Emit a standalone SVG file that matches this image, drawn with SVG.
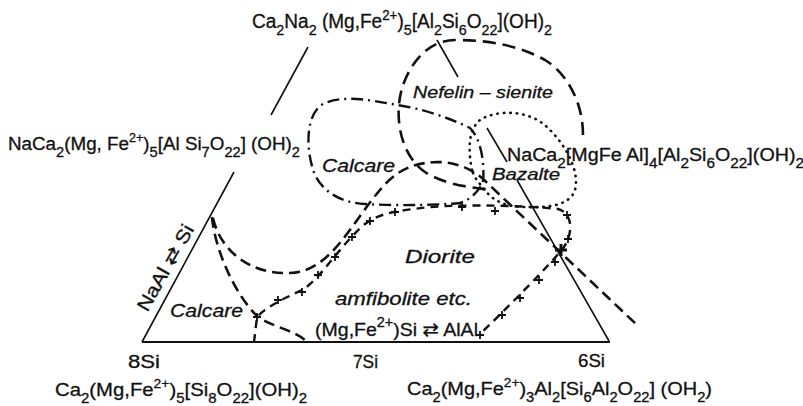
<svg xmlns="http://www.w3.org/2000/svg" xmlns:xlink="http://www.w3.org/1999/xlink" width="803" height="406" viewBox="0 0 803 406">
<style>
text{font-family:"Liberation Sans","DejaVu Sans",sans-serif;fill:#111;stroke:#111;stroke-width:0.3}
.it{font-style:italic}
.sol{fill:none;stroke:#111;stroke-width:1.6}
.base{fill:none;stroke:#111;stroke-width:2.2}
.dash{fill:none;stroke:#111;stroke-width:2.6;stroke-dasharray:11 6}
.dashL{fill:none;stroke:#111;stroke-width:2.6;stroke-dasharray:13 7}
.dd{fill:none;stroke:#111;stroke-width:2.4;stroke-dasharray:12 5 2 5}
.dx{fill:none;stroke:#111;stroke-width:2.4;stroke-dasharray:8 6}
.dot{fill:none;stroke:#111;stroke-width:2.6;stroke-linecap:round;stroke-dasharray:0.5 6}
.cr{stroke:#111;stroke-width:1.8;fill:none}
</style>
<defs>
<path id="cross" class="cr" d="M-4,0H4M0,-4V4"/>
<path id="crossB" d="M-6,0H6M0,-6V6" stroke="#111" stroke-width="3" fill="none"/>
</defs>
<rect width="803" height="406" fill="#fff"/>

<g id="triangle">
<path class="sol" d="M308,47 L271,115 M234,172 L142,342"/>
<path class="sol" d="M437,40 L458,77 M487,128 L507,162 M517,180 L609,341"/>
<path class="base" d="M142,342 H610"/>
</g>

<g id="connectors">
<path id="curveA" class="dash" d="M212,217 C215,250 235,295 258,317 C275,328 295,330 307,342"/>
<path id="curveB" class="dash" d="M213,218 C220,250 250,275 290,273 C330,272 350,225 380,190 C395,172 410,163 437,162 C455,162 470,168 482,178 L637,325"/>
<path id="curveC" class="dashL" d="M583,135 C583,100 565,72 545,60 C520,46 490,40 455,40 C430,40 412,60 403,85 C393,115 400,155 425,172 C445,185 470,187 490,190"/>
<path id="curveD" class="dd" d="M483,182 C485,160 480,138 470,128 C450,118 420,108 397,105 C370,100 345,95 325,103 C305,112 305,150 315,175 C325,195 345,203 365,204 C400,206 440,205 460,203 C470,200 478,192 483,182 Z"/>
<path id="curveE" class="dx" d="M254,342 L257,317 C268,305 290,296 302,290 C320,280 340,245 365,224 C380,213 395,211 430,207 C470,204 530,206 558,209 C575,214 573,238 560,252 C540,275 500,315 480,334"/>
<path id="curveF" class="dot" d="M472,170 C468,150 468,130 480,120 C495,110 530,108 550,130 C565,145 580,170 575,190 C570,205 550,208 525,207 C505,207 492,200 485,190 C478,182 474,177 472,170 Z"/>
<g id="crosses">
<use xlink:href="#cross" x="257" y="317"/>
<use xlink:href="#cross" x="278" y="300"/>
<use xlink:href="#cross" x="302" y="292"/>
<use xlink:href="#cross" x="318" y="275"/>
<use xlink:href="#cross" x="335" y="257"/>
<use xlink:href="#cross" x="352" y="237"/>
<use xlink:href="#cross" x="370" y="221"/>
<use xlink:href="#cross" x="395" y="212"/>
<use xlink:href="#cross" x="462" y="207"/>
<use xlink:href="#cross" x="495" y="211"/>
<use xlink:href="#cross" x="567" y="215"/>
<use xlink:href="#cross" x="568" y="239"/>
<use xlink:href="#crossB" x="561" y="250"/>
<use xlink:href="#cross" x="555" y="262"/>
<use xlink:href="#cross" x="539" y="280"/>
<use xlink:href="#cross" x="520" y="298"/>
<use xlink:href="#cross" x="502" y="315"/>
<use xlink:href="#cross" x="480" y="335"/>
</g>
</g>

<g id="labels">
<text id="top" x="252" y="28" font-size="20" textLength="300" lengthAdjust="spacingAndGlyphs">Ca<tspan dy="7" font-size="15">2</tspan><tspan dy="-7">Na</tspan><tspan dy="7" font-size="15">2</tspan><tspan dy="-7"> (Mg,Fe</tspan><tspan dy="-8" font-size="14">2+</tspan><tspan dy="8">)</tspan><tspan dy="7" font-size="15">5</tspan><tspan dy="-7">[Al</tspan><tspan dy="7" font-size="15">2</tspan><tspan dy="-7">Si</tspan><tspan dy="7" font-size="15">6</tspan><tspan dy="-7">O</tspan><tspan dy="7" font-size="15">22</tspan><tspan dy="-7">](OH)</tspan><tspan dy="7" font-size="15">2</tspan></text>
<text id="left" x="8" y="150" font-size="18" textLength="292" lengthAdjust="spacingAndGlyphs">NaCa<tspan dy="7" font-size="14">2</tspan><tspan dy="-7">(Mg, Fe</tspan><tspan dy="-8" font-size="12">2+</tspan><tspan dy="8">)</tspan><tspan dy="7" font-size="14">5</tspan><tspan dy="-7">[Al Si</tspan><tspan dy="7" font-size="14">7</tspan><tspan dy="-7">O</tspan><tspan dy="7" font-size="14">22</tspan><tspan dy="-7">] (OH)</tspan><tspan dy="7" font-size="14">2</tspan></text>
<text id="right" x="507" y="161" font-size="18" textLength="297" lengthAdjust="spacingAndGlyphs">NaCa<tspan dy="7" font-size="14">2</tspan><tspan dy="-7">[MgFe Al]</tspan><tspan dy="7" font-size="14">4</tspan><tspan dy="-7">[Al</tspan><tspan dy="7" font-size="14">2</tspan><tspan dy="-7">Si</tspan><tspan dy="7" font-size="14">6</tspan><tspan dy="-7">O</tspan><tspan dy="7" font-size="14">22</tspan><tspan dy="-7">](OH)</tspan><tspan dy="7" font-size="14">2</tspan></text>
<text id="bl" x="55" y="396" font-size="19" textLength="252" lengthAdjust="spacingAndGlyphs">Ca<tspan dy="7" font-size="14">2</tspan><tspan dy="-7">(Mg,Fe</tspan><tspan dy="-8" font-size="13">2+</tspan><tspan dy="8">)</tspan><tspan dy="7" font-size="14">5</tspan><tspan dy="-7">[Si</tspan><tspan dy="7" font-size="14">8</tspan><tspan dy="-7">O</tspan><tspan dy="7" font-size="14">22</tspan><tspan dy="-7">](OH)</tspan><tspan dy="7" font-size="14">2</tspan></text>
<text id="br" x="407" y="395" font-size="19" textLength="305" lengthAdjust="spacingAndGlyphs">Ca<tspan dy="7" font-size="14">2</tspan><tspan dy="-7">(Mg,Fe</tspan><tspan dy="-8" font-size="13">2+</tspan><tspan dy="8">)</tspan><tspan dy="7" font-size="14">3</tspan><tspan dy="-7">Al</tspan><tspan dy="7" font-size="14">2</tspan><tspan dy="-7">[Si</tspan><tspan dy="7" font-size="14">6</tspan><tspan dy="-7">Al</tspan><tspan dy="7" font-size="14">2</tspan><tspan dy="-7">O</tspan><tspan dy="7" font-size="14">22</tspan><tspan dy="-7">] (OH</tspan><tspan dy="7" font-size="14">2</tspan><tspan dy="-7">)</tspan></text>
<text x="128" y="368" font-size="18" textLength="32" lengthAdjust="spacingAndGlyphs">8Si</text>
<text x="353" y="368" font-size="18" textLength="25" lengthAdjust="spacingAndGlyphs">7Si</text>
<text x="578" y="367" font-size="18" textLength="27" lengthAdjust="spacingAndGlyphs">6Si</text>
<text class="it" x="413" y="98" font-size="17" textLength="140" lengthAdjust="spacingAndGlyphs">Nefelin – sienite</text>
<text class="it" x="322" y="172" font-size="18" textLength="73" lengthAdjust="spacingAndGlyphs">Calcare</text>
<text class="it" x="492" y="180" font-size="17" textLength="68" lengthAdjust="spacingAndGlyphs">Bazalte</text>
<text class="it" x="405" y="263" font-size="19" textLength="70" lengthAdjust="spacingAndGlyphs">Diorite</text>
<text class="it" x="335" y="305" font-size="18" textLength="137" lengthAdjust="spacingAndGlyphs">amfibolite etc.</text>
<text class="it" x="170" y="317" font-size="18" textLength="73" lengthAdjust="spacingAndGlyphs">Calcare</text>
<text x="315" y="336" font-size="19" textLength="163" lengthAdjust="spacingAndGlyphs">(Mg,Fe<tspan dy="-9" font-size="14">2+</tspan><tspan dy="9">)Si ⇄ AlAl</tspan></text>
<text x="0" y="0" font-size="19" text-anchor="middle" textLength="96" lengthAdjust="spacingAndGlyphs" transform="translate(171,271) rotate(-60.6)">NaAl ⇄ Si</text>
</g>
</svg>
